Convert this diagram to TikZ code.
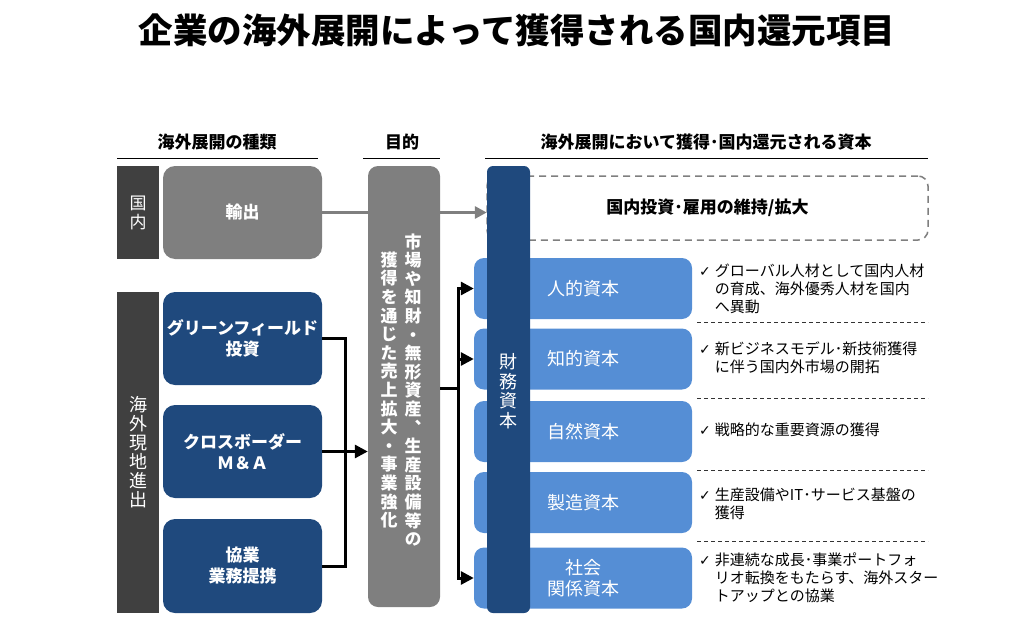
\documentclass[tikz,border=0pt]{standalone}
\usepackage{fontspec}
\setmainfont{Noto Sans CJK JP}
\newfontfamily\vfont{Noto Sans CJK JP}[RawFeature=+vert]
\newfontfamily\symfont{DejaVu Sans}
\usetikzlibrary{arrows.meta,calc}
\definecolor{navy}{HTML}{1F497D}
\definecolor{dgray}{HTML}{404040}
\definecolor{mgray}{HTML}{7F7F7F}
\definecolor{lblue}{HTML}{558ED5}
\newcommand{\mychk}{{\symfont\fontsize{14}{18}\selectfont ✓}}
\begin{document}
\begin{tikzpicture}[x=1pt,y=-1pt,
  sidebar/.style={fill=dgray, minimum width=42pt, inner sep=0pt, text=white, align=center,
    font=\vfont\fontsize{17}{19}\selectfont},
  gbox/.style={fill=mgray, rounded corners=12pt, minimum width=159pt, minimum height=93pt,
    inner sep=0pt, text=white, align=center, font=\fontsize{17}{21}\selectfont\bfseries},
  nbox/.style={gbox, fill=navy},
  cbox/.style={fill=lblue, rounded corners=10pt, minimum width=218pt, minimum height=61pt,
    inner sep=0pt, text=white, align=center, font=\fontsize{18}{21}\selectfont},
  hdr/.style={font=\fontsize{17}{20}\selectfont\bfseries, inner sep=0pt},
  vtxt/.style={text=white, align=center, inner sep=0pt, font=\vfont\fontsize{17}{18.6}\selectfont\bfseries},
  desc/.style={anchor=west, inner sep=0pt, font=\fontsize{15}{18}\selectfont},
  conn/.style={line width=3pt, black},
  tipb/.style={-{Triangle[length=13pt,width=13pt]}},
  sep/.style={line width=0.8pt, dash pattern=on 4pt off 3pt, black!80}
]
\useasboundingbox (0,0) rectangle (1028,618);

% title
\node[font=\fontsize{34.5}{40}\selectfont\bfseries, inner sep=0pt] (title) at (517,30) {企業の海外展開によって獲得される国内還元項目};

% headers
\node[hdr] (h1) at (217,142) {海外展開の種類};
\node[hdr] (h2) at (402,142) {目的};
\node[hdr] (h3) at (706,142) {海外展開において獲得･国内還元される資本};
\draw[line width=1pt] (117,158) coordinate (l1a) -- (318,158) coordinate (l1b);
\draw[line width=1pt] (363,158) coordinate (l2a) -- (440,158) coordinate (l2b);
\draw[line width=1pt] (485,158) coordinate (l3a) -- (928,158) coordinate (l3b);

% capitals
\node[draw=mgray, line width=1.5pt, dash pattern=on 7pt off 5pt, rounded corners=10pt,
  minimum width=441pt, minimum height=64pt, inner sep=0pt,
  font=\fontsize{17}{20}\selectfont\bfseries] (dom) at (707.5,208) {\raisebox{-3pt}{国内投資･雇用の維持/拡大}};
\node[cbox] (hum) at (583,288.5) {人的資本};
\node[cbox] (int) at (583,359) {知的資本};
\node[cbox] (nat) at (583,431.5) {自然資本};
\node[cbox] (man) at (583,502.5) {製造資本};
\node[cbox] (soc) at (583,578) {社会\\関係資本};

% financial capital bar
\node[fill=navy, rounded corners=6pt, minimum width=43pt, minimum height=447pt, inner sep=0pt] (zaimu) at (508.5,389.5) {};
\node[text=white, align=center, inner sep=0pt, font=\vfont\fontsize{18}{19.5}\selectfont] (zaimut) at (508.5,391) {財\\務\\資\\本};

% left side
\node[sidebar, minimum height=93pt] (kokunai) at (138,212.5) {国\\内};
\node[sidebar, minimum height=321pt, font=\vfont\fontsize{18}{19}\selectfont] (kaigai) at (138,452.5) {海\\外\\現\\地\\進\\出};
\node[gbox] (exp) at (242.5,212.5) {輸出};
\node[nbox] (green) at (242.5,338.5) {グリーンフィールド\\投資};
\node[nbox] (cross) at (242.5,451.5) {クロスボーダー\\Ｍ＆Ａ};
\node[nbox, minimum height=94pt] (kyo) at (242.5,566) {協業\\業務提携};

% grey arrow (behind purpose box)
\draw[line width=3pt, mgray, -{Triangle[length=12pt,width=12pt]}] (exp.east) -- (exp.east -| zaimu.west);

% purpose box
\node[fill=mgray, rounded corners=10pt, minimum width=72pt, minimum height=441pt, inner sep=0pt] (purp) at (404,386.5) {};
\node[vtxt] (pr) at (413,390) {市\\場\\や\\知\\財\\・\\無\\形\\資\\産\\、\\生\\産\\設\\備\\等\\の};
\node[vtxt] (pl) at (389,390) {獲\\得\\を\\通\\じ\\た\\売\\上\\拡\\大\\・\\事\\業\\強\\化};

% black connectors left
\coordinate (jl) at (345,0);
\draw[conn] (green.east) -| (jl |- kyo.east) -- (kyo.east);
\draw[conn, tipb] (cross.east) -- (purp.west |- cross.east);

% black connectors right
\coordinate (jr) at (458,0);
\draw[conn] (purp.east |- 0,388) -- (jr |- 0,388);
\draw[conn, {Triangle[length=13pt,width=13pt]}-{Triangle[length=13pt,width=13pt]}] (hum.west) -| (jr |- soc.west) -- (soc.west);
\draw[conn, tipb] (jr |- int.west) -- (int.west);

% descriptions
\node[desc] (d1) at (699,291) {\begin{tabular}{@{}l@{\hspace{4pt}}l@{}}\mychk & グローバル人材として国内人材\\ & の育成、海外優秀人材を国内\\ & へ異動\end{tabular}};
\node[desc] (d2) at (699,360) {\begin{tabular}{@{}l@{\hspace{4pt}}l@{}}\mychk & 新ビジネスモデル･新技術獲得\\ & に伴う国内外市場の開拓\end{tabular}};
\node[desc] (d3) at (699,432) {\begin{tabular}{@{}l@{\hspace{4pt}}l@{}}\mychk & 戦略的な重要資源の獲得\end{tabular}};
\node[desc] (d4) at (699,506) {\begin{tabular}{@{}l@{\hspace{4pt}}l@{}}\mychk & 生産設備やIT･サービス基盤の\\ & 獲得\end{tabular}};
\node[desc] (d5) at (699,580) {\begin{tabular}{@{}l@{\hspace{4pt}}l@{}}\mychk & 非連続な成長･事業ポートフォ\\ & リオ転換をもたらす、海外スター\\ & トアップとの協業\end{tabular}};

\draw[sep] (697,322) coordinate (s1a) -- (928,322) coordinate (s1b);
\draw[sep] (697,398) coordinate (s2a) -- (928,398) coordinate (s2b);
\draw[sep] (697,470) coordinate (s3a) -- (928,470) coordinate (s3b);
\draw[sep] (697,541) coordinate (s4a) -- (928,541) coordinate (s4b);
\end{tikzpicture}
\end{document}
